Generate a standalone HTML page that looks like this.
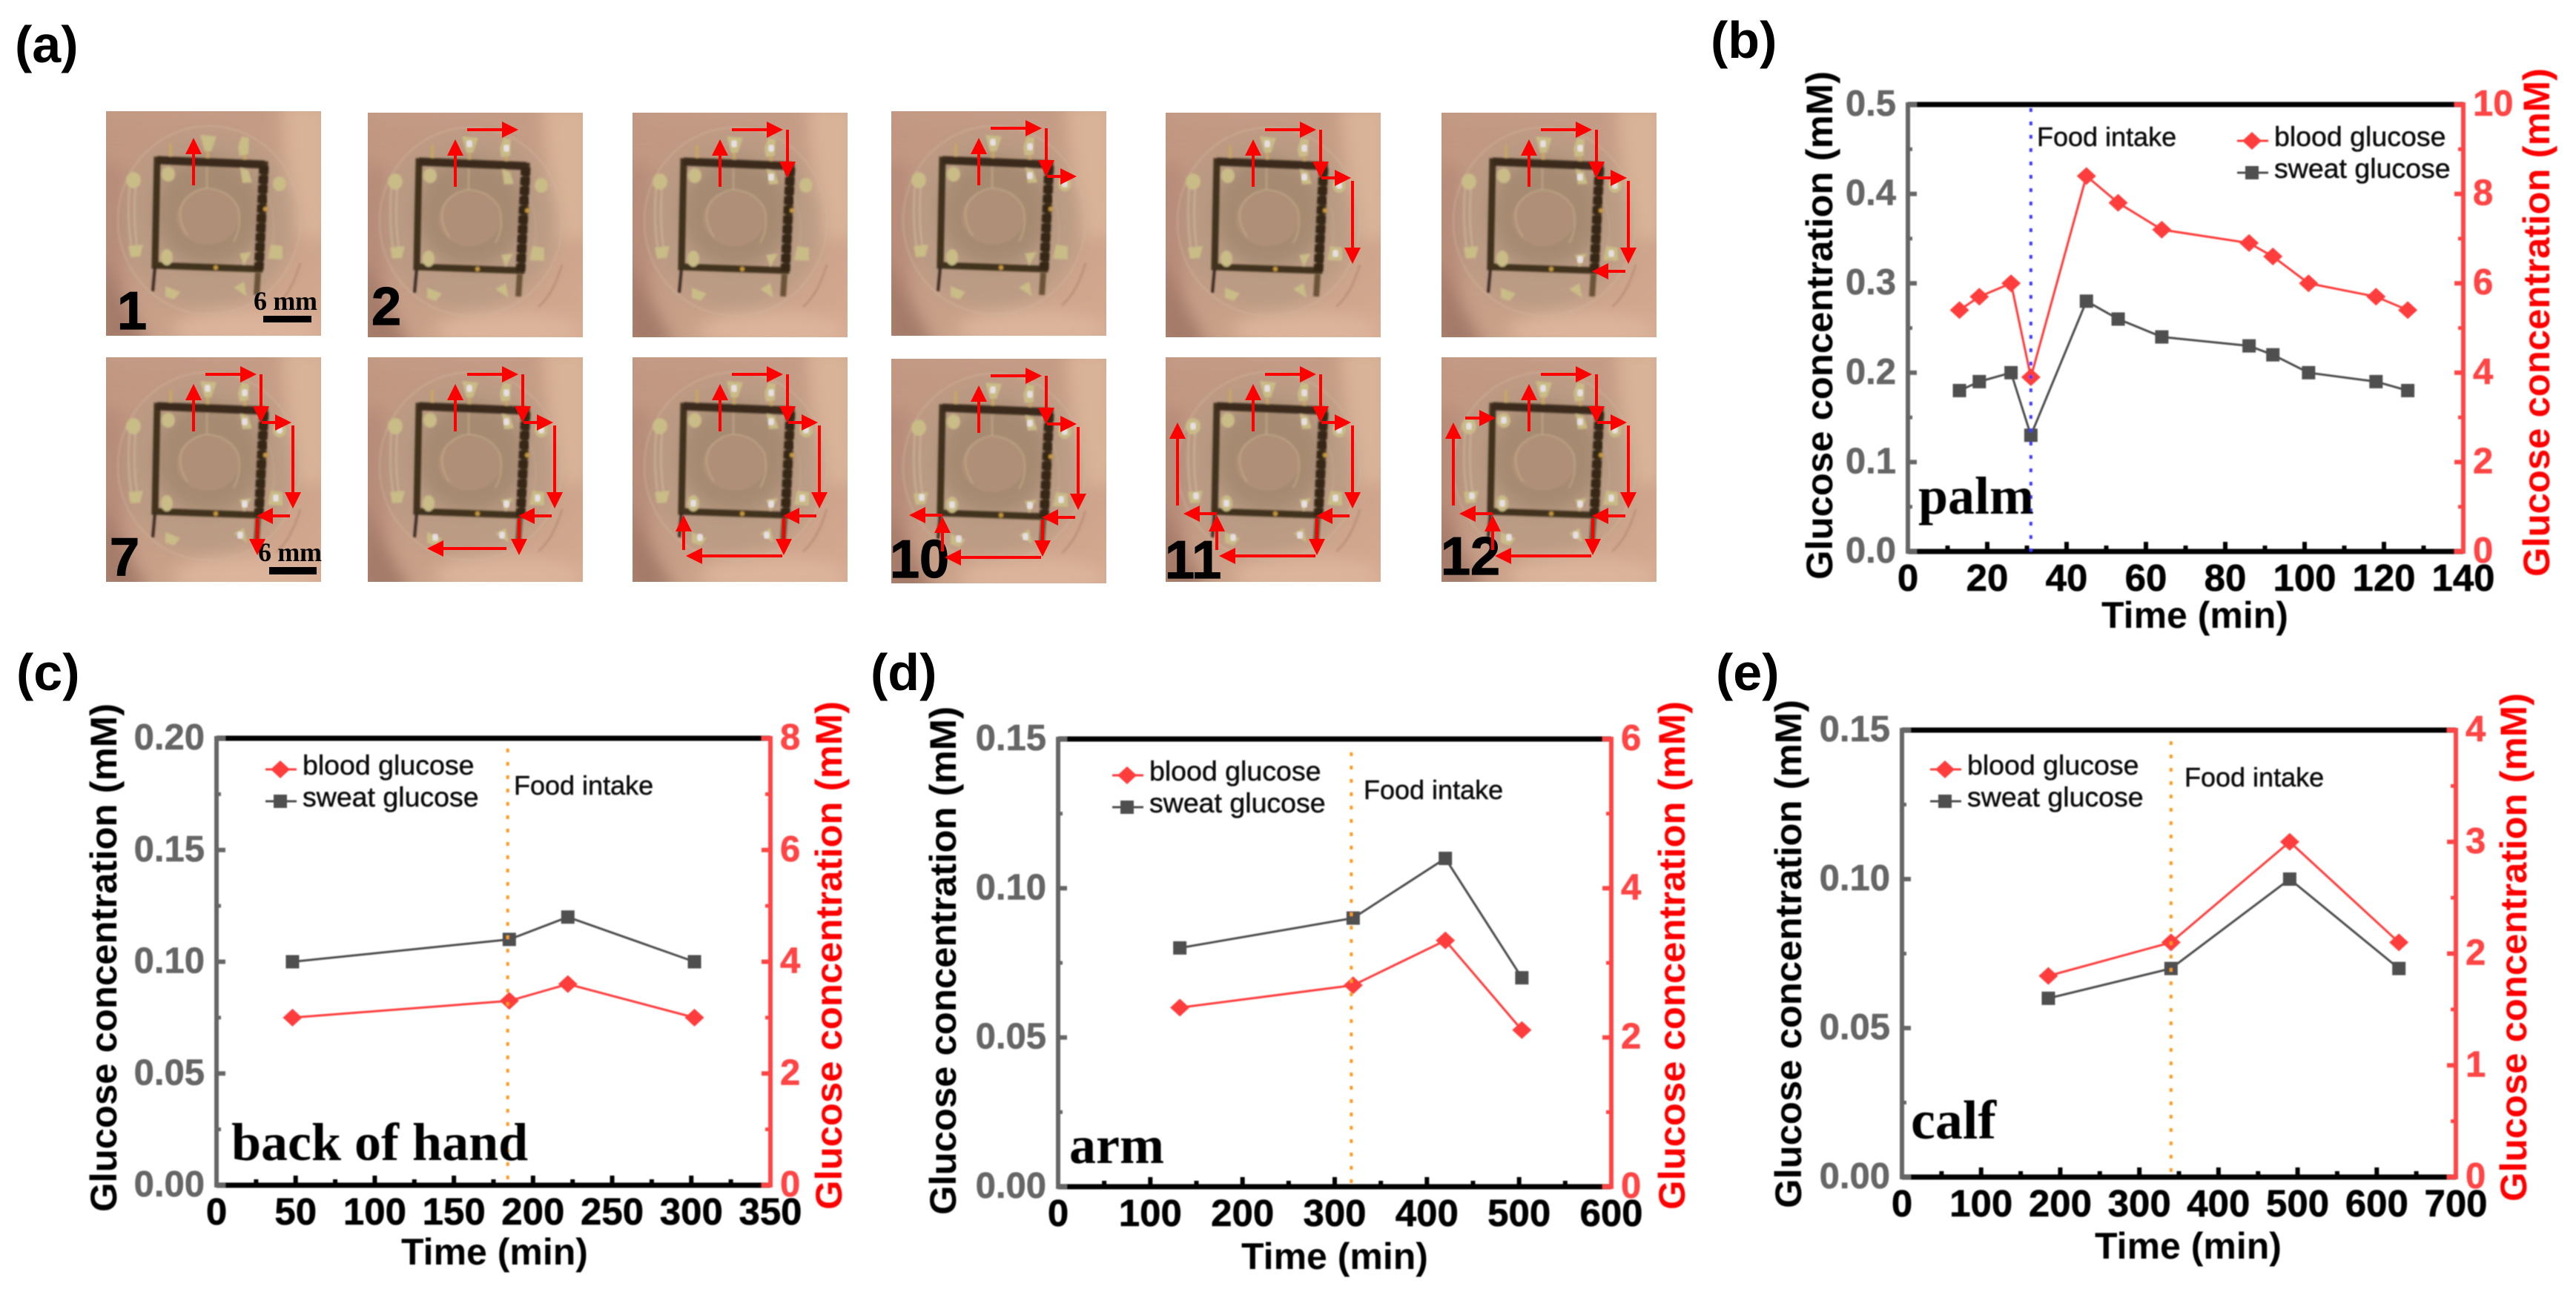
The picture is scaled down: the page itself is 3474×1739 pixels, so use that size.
<!DOCTYPE html>
<html lang="en">
<head>
<meta charset="utf-8">
<title>Glucose monitoring figure</title>
<style>
html,body{margin:0;padding:0;background:#fff;}
svg{display:block;}
text{font-family:"Liberation Sans",Arial,sans-serif;}
.serif{font-family:"Liberation Serif","Times New Roman",serif;font-weight:bold;}
.panel{font-weight:bold;font-size:70px;fill:#000;}
.num{font-weight:bold;font-size:72px;fill:#000;stroke:#000;stroke-width:1.2px;}
.scale{font-family:"Liberation Serif",serif;font-weight:bold;font-size:36px;fill:#000;}
.title{font-weight:bold;font-size:50px;stroke:none;}
.tick{font-weight:bold;font-size:49px;stroke-width:.6px;}
.xtick{font-weight:bold;font-size:51px;stroke-width:.6px;}
.small{font-size:36px;fill:#111;stroke:#111;stroke-width:.5px;}
.legend-text{font-size:37.5px;fill:#111;stroke:#111;stroke-width:.5px;}
</style>
</head>
<body>
<svg id="fig" xmlns="http://www.w3.org/2000/svg" width="3474" height="1739" viewBox="0 0 3474 1739">
  <defs>
    <linearGradient id="skin" x1="0" y1="0" x2="1" y2="1">
      <stop offset="0" stop-color="#c09680"/>
      <stop offset=".5" stop-color="#c69e87"/>
      <stop offset="1" stop-color="#d4aa90"/>
    </linearGradient>
    <clipPath id="photoClip"><rect width="290" height="303"/></clipPath>
    <filter id="bgBlur" x="-10%" y="-10%" width="120%" height="120%"><feGaussianBlur stdDeviation="11"/></filter>
    <filter id="photoBlur" x="-3%" y="-3%" width="106%" height="106%"><feGaussianBlur stdDeviation="1.3"/></filter>
    <filter id="soft" filterUnits="userSpaceOnUse" x="0" y="0" width="3474" height="1739"><feGaussianBlur stdDeviation="0.7"/></filter>
    <g id="photo-art" clip-path="url(#photoClip)">
      <rect width="290" height="303" fill="url(#skin)"/>
      <g filter="url(#bgBlur)">
        <rect x="-20" y="70" width="45" height="240" fill="#b78c79"/>
        <polygon points="-10,190 60,320 -10,320" fill="#a47a69"/>
        <polygon points="235,-10 300,-10 300,170 255,170" fill="#d9b398"/>
        <ellipse cx="190" cy="295" rx="100" ry="26" fill="#dcb49b"/>
        <rect x="0" y="-10" width="230" height="24" fill="#c49b86"/>
        <ellipse cx="139" cy="147" rx="118" ry="120" fill="#b59a83" opacity=".75"/>
        <ellipse cx="139" cy="135" rx="74" ry="74" fill="#a68a72"/>
      </g>
      <g filter="url(#photoBlur)">
        <ellipse cx="139" cy="147" rx="123" ry="127" fill="none" stroke="#d2b9a2" stroke-width="2" opacity=".45"/>
        <path d="M230 262Q250 245 262 205" fill="none" stroke="#93684f" stroke-width="3" opacity=".3"/>
        <path d="M32 100Q28 145 34 182M40 100Q36 145 42 182" fill="none" stroke="#d6c4a4" stroke-width="2.5" opacity=".5"/>
        <path d="M216 110Q232 145 224 182" fill="none" stroke="#c9b193" stroke-width="2" opacity=".35"/>
        <ellipse cx="137" cy="143" rx="42" ry="37" fill="#b6937b" opacity=".55"/>
        <path d="M110 168Q92 140 106 120Q118 106 136 104Q166 106 178 130Q184 155 172 176" fill="none" stroke="#c4aa88" stroke-width="2.5" opacity=".65"/>
        <path d="M136 76V104" stroke="#c4aa88" stroke-width="2.5" fill="none" opacity=".7"/>
        <path d="M87 44V62M137 52V66M187 56V68" stroke="#c9a860" stroke-width="3.5" fill="none"/>
        <path d="M69 66L214 72L207 213L66 208Z" fill="none" stroke="#41311f" stroke-width="9"/>
        <path d="M69 66L214 72" fill="none" stroke="#3a2b1b" stroke-width="11"/>
        <path d="M213 74L206 214" fill="none" stroke="#352819" stroke-width="13" stroke-dasharray="11 2"/>
        <path d="M66 210L63 243" stroke="#3a2c20" stroke-width="4" fill="none"/>
        <path d="M205 218L203 248" stroke="#6a5239" stroke-width="8" fill="none"/>
        <circle cx="215" cy="132" r="3" fill="#c89a3c"/>
        <circle cx="148" cy="211" r="3" fill="#c89a3c"/>
        <g fill="#c9bc86">
          <path d="M127 32L149 34L142 54L133 54Z"/>
          <path d="M183 34L193 36L192 58L180 60L178 48Z"/>
          <ellipse cx="84" cy="85" rx="9" ry="10"/>
          <path d="M181 76L192 80L197 96L184 97Z"/>
          <ellipse cx="37" cy="93" rx="10" ry="11"/>
          <ellipse cx="234" cy="98" rx="9" ry="10"/>
          <path d="M30 182L50 180L46 196L33 197Z"/>
          <path d="M222 180L238 182L238 200L218 199Z"/>
          <ellipse cx="82" cy="197" rx="8" ry="11"/>
          <path d="M180 192L196 190L186 208Z"/>
          <path d="M80 236L100 244L92 254L80 250Z"/>
          <path d="M172 238L186 230L190 250Z"/>
        </g>
      </g>
    </g>
  </defs>

  <g id="photos"></g>

  <g id="photo-labels"></g>

  <g id="photo-arrows"></g>

  <g id="charts" filter="url(#soft)"></g>

  <text class="panel" x="20" y="84">(a)</text>
  <text class="panel" x="2307" y="78">(b)</text>
  <text class="panel" x="22" y="931">(c)</text>
  <text class="panel" x="1174" y="931">(d)</text>
  <text class="panel" x="2314" y="931">(e)</text>
</svg>

<script>
// ---- chart data ----
const palmTimes = [13, 18, 26, 31, 45, 53, 64, 86, 92, 101, 118, 126];
const palmSweat = [0.18, 0.19, 0.20, 0.13, 0.28, 0.26, 0.24, 0.23, 0.22, 0.20, 0.19, 0.18];
const palmBlood = [5.4, 5.7, 6.0, 3.9, 8.4, 7.8, 7.2, 6.9, 6.6, 6.0, 5.7, 5.4];
const palmXTicks = ['0', '20', '40', '60', '80', '100', '120', '140'];
const palmYTicks = ['0.0', '0.1', '0.2', '0.3', '0.4', '0.5'];
const palmY2Ticks = ['0', '2', '4', '6', '8', '10'];

const handTimes = [48, 185, 222, 302];
const handSweat = [0.10, 0.11, 0.12, 0.10];
const handBlood = [3.0, 3.3, 3.6, 3.0];
const handXTicks = ['0', '50', '100', '150', '200', '250', '300', '350'];
const handYTicks = ['0.00', '0.05', '0.10', '0.15', '0.20'];
const handY2Ticks = ['0', '2', '4', '6', '8'];

const armTimes = [132, 320, 420, 503];
const armSweat = [0.08, 0.09, 0.11, 0.07];
const armBlood = [2.4, 2.7, 3.3, 2.1];
const armXTicks = ['0', '100', '200', '300', '400', '500', '600'];
const armYTicks = ['0.00', '0.05', '0.10', '0.15'];
const armY2Ticks = ['0', '2', '4', '6'];

const calfTimes = [185, 340, 490, 628];
const calfSweat = [0.06, 0.07, 0.10, 0.07];
const calfBlood = [1.8, 2.1, 3.0, 2.1];
const calfXTicks = ['0', '100', '200', '300', '400', '500', '600', '700'];
const calfYTicks = ['0.00', '0.05', '0.10', '0.15'];
const calfY2Ticks = ['0', '1', '2', '3', '4'];

const seriesNames = ['blood glucose', 'sweat glucose'];
const yTitle = 'Glucose concentration (mM)';
const xTitle = 'Time (min)';
const foodLabel = 'Food intake';

// ---- helpers ----
const NS = 'http://www.w3.org/2000/svg';
const GRAY = '#666666', RED = '#ff4444', SWEAT = '#505050', BLOOD = '#ff3e3e';
function mk(tag, attrs, parent) {
  const e = document.createElementNS(NS, tag);
  for (const k in attrs) e.setAttribute(k, attrs[k]);
  parent.appendChild(e);
  return e;
}
function tag(el, name) {
  
  
  return el;
}
function diamond(cx, cy, parent) {
  return mk('polygon', {points: (cx-13)+','+cy+' '+cx+','+(cy-12)+' '+(cx+13)+','+cy+' '+cx+','+(cy+12), fill: BLOOD}, parent);
}
function square(cx, cy, parent) {
  return mk('rect', {x: cx-9, y: cy-9, width: 18, height: 18, fill: SWEAT}, parent);
}
function label(txt, x, y, cls, fill, anchor, parent) {
  const t = mk('text', {x: x, y: y, 'class': cls, 'text-anchor': anchor}, parent);
  if (fill) {
    t.setAttribute('fill', fill);
    t.setAttribute('stroke', fill);
  }
  t.textContent = txt;
  return t;
}
function vTitle(x, cy, fill, parent) {
  const t = mk('text', {'class': 'title', fill: fill, 'text-anchor': 'middle', transform: 'translate('+x+' '+cy+') rotate(-90)', textLength: 686, lengthAdjust: 'spacingAndGlyphs'}, parent);
  t.textContent = yTitle;
  return t;
}

function drawChart(c) {
  const root = document.getElementById('charts');
  const g = mk('g', {}, root);
  
  

  const xMax = parseFloat(c.xTicks[c.xTicks.length-1]);
  const yMax = parseFloat(c.yTicks[c.yTicks.length-1]);
  const y2Max = parseFloat(c.y2Ticks[c.y2Ticks.length-1]);
  const X = v => c.left + (c.right - c.left) * v / xMax;
  const Y = v => c.bottom - (c.bottom - c.top) * v / yMax;
  const Y2 = v => c.bottom - (c.bottom - c.top) * v / y2Max;

  // spines
  tag(mk('line', {x1: c.left, x2: c.right, y1: c.top, y2: c.top, stroke: '#000', 'stroke-width': 7}, g), 'top-axis-line');
  tag(mk('line', {x1: c.left, x2: c.right, y1: c.bottom, y2: c.bottom, stroke: '#000', 'stroke-width': 7}, g), 'x-axis-line');
  tag(mk('line', {x1: c.left, x2: c.left, y1: c.top-3, y2: c.bottom+3, stroke: GRAY, 'stroke-width': 6}, g), 'left-y-axis-line');
  tag(mk('line', {x1: c.right, x2: c.right, y1: c.top-3, y2: c.bottom+3, stroke: RED, 'stroke-width': 6}, g), 'right-y-axis-line');

  // x ticks and labels
  c.xTicks.forEach((t, i) => {
    const v = parseFloat(t), x = X(v);
    if (i > 0 && i < c.xTicks.length-1) {
      tag(mk('rect', {x: x-3, y: c.bottom-13, width: 6, height: 13, fill: '#000'}, g), 'x-major-tick');
    }
    tag(label(t, x, c.bottom + 53, 'xtick', '#000', 'middle', g), 'x-tick-label');
    if (i < c.xTicks.length-1) {
      const m = X((v + parseFloat(c.xTicks[i+1])) / 2);
      tag(mk('rect', {x: m-3, y: c.bottom-8, width: 6, height: 8, fill: '#000'}, g), 'x-minor-tick');
    }
  });

  // left y ticks and labels
  c.yTicks.forEach((t, i) => {
    const v = parseFloat(t), y = Y(v);
    tag(mk('line', {x1: c.left, x2: c.left+12, y1: y, y2: y, stroke: GRAY, 'stroke-width': 6}, g), 'left-y-major-tick');
    tag(label(t, c.left-16, y+15, 'tick', GRAY, 'end', g), 'left-y-tick-label');
    if (i < c.yTicks.length-1) {
      const m = Y((v + parseFloat(c.yTicks[i+1])) / 2);
      tag(mk('line', {x1: c.left, x2: c.left+6, y1: m, y2: m, stroke: GRAY, 'stroke-width': 5}, g), 'left-y-minor-tick');
    }
  });

  // right y ticks and labels
  c.y2Ticks.forEach((t, i) => {
    const v = parseFloat(t), y = Y2(v);
    tag(mk('line', {x1: c.right, x2: c.right-12, y1: y, y2: y, stroke: RED, 'stroke-width': 6}, g), 'right-y-major-tick');
    tag(label(t, c.right+13, y+15, 'tick', RED, 'start', g), 'right-y-tick-label');
    if (i < c.y2Ticks.length-1) {
      const m = Y2((v + parseFloat(c.y2Ticks[i+1])) / 2);
      tag(mk('line', {x1: c.right, x2: c.right-7, y1: m, y2: m, stroke: RED, 'stroke-width': 5}, g), 'right-y-minor-tick');
    }
  });

  // series
  const sweatG = mk('g', {}, g);
  
  
  const sweatLine = mk('polyline', {points: c.times.map((t, i) => X(t)+','+Y(c.sweat[i])).join(' '), fill: 'none', stroke: SWEAT, 'stroke-width': 3}, sweatG);
  tag(sweatLine, 'sweat-glucose-line');
  c.sweat.forEach((v, i) => {
    tag(square(X(c.times[i]), Y(v), sweatG), 'sweat-glucose-point');
  });

  const bloodG = mk('g', {}, g);
  
  
  const bloodLine = mk('polyline', {points: c.times.map((t, i) => X(t)+','+Y2(c.blood[i])).join(' '), fill: 'none', stroke: BLOOD, 'stroke-width': 3}, bloodG);
  tag(bloodLine, 'blood-glucose-line');
  c.blood.forEach((v, i) => {
    tag(diamond(X(c.times[i]), Y2(v), bloodG), 'blood-glucose-point');
  });

  // food intake marker (over series, as in the source)
  const food = mk('line', {x1: X(c.foodTime), x2: X(c.foodTime), y1: c.foodTop, y2: c.bottom, stroke: c.foodColor, 'stroke-width': 4, 'stroke-dasharray': '5 13'}, g);
  tag(food, 'food-intake-line');
  tag(label(foodLabel, c.foodX, c.foodY, 'small', null, 'start', g), 'food-intake-label');

  // legend
  const lg = mk('g', {}, g);
  
  
  const lc = c.legendX + 20;
  tag(mk('line', {x1: c.legendX, x2: c.legendX+42, y1: c.legendY1, y2: c.legendY1, stroke: BLOOD, 'stroke-width': 3}, lg), 'legend-blood-line');
  tag(diamond(lc, c.legendY1, lg), 'legend-blood-marker');
  tag(label(seriesNames[0], c.legendX+50, c.legendY1+7, 'legend-text', null, 'start', lg), 'legend-blood-label');
  tag(mk('line', {x1: c.legendX, x2: c.legendX+42, y1: c.legendY2, y2: c.legendY2, stroke: SWEAT, 'stroke-width': 3}, lg), 'legend-sweat-line');
  tag(square(lc, c.legendY2, lg), 'legend-sweat-marker');
  tag(label(seriesNames[1], c.legendX+50, c.legendY2+7, 'legend-text', null, 'start', lg), 'legend-sweat-label');

  // site label
  const site = mk('text', {x: c.siteX, y: c.siteY, 'class': 'serif', 'font-size': c.siteSize, fill: '#000'}, g);
  site.textContent = c.site;
  tag(site, 'body-site-label');

  // axis titles
  tag(vTitle(c.titleLX, c.titleLY, '#000', g), 'left-y-axis-title');
  tag(vTitle(c.titleRX, c.titleRY, '#ff0000', g), 'right-y-axis-title');
  tag(label(xTitle, c.titleXX, c.titleXY, 'title', '#000', 'middle', g), 'x-axis-title');
}

drawChart({name: 'palm-chart', left: 2573, right: 3322, top: 141, bottom: 744,
  times: palmTimes, sweat: palmSweat, blood: palmBlood,
  xTicks: palmXTicks, yTicks: palmYTicks, y2Ticks: palmY2Ticks,
  foodTime: 31, foodColor: '#3a3aff', foodTop: 146, foodX: 2747, foodY: 197,
  legendX: 3017, legendY1: 190, legendY2: 233, site: 'palm', siteX: 2587, siteY: 693, siteSize: 72,
  titleLX: 2471, titleLY: 439, titleRX: 3438, titleRY: 435, titleXX: 2960, titleXY: 847});

drawChart({name: 'back-of-hand-chart', left: 292, right: 1039, top: 996, bottom: 1599,
  times: handTimes, sweat: handSweat, blood: handBlood,
  xTicks: handXTicks, yTicks: handYTicks, y2Ticks: handY2Ticks,
  foodTime: 184, foodColor: '#ff9a1f', foodTop: 1010, foodX: 693, foodY: 1072,
  legendX: 358, legendY1: 1038, legendY2: 1081, site: 'back of hand', siteX: 312, siteY: 1565, siteSize: 72,
  titleLX: 157, titleLY: 1292, titleRX: 1135, titleRY: 1289, titleXX: 667, titleXY: 1706});

drawChart({name: 'arm-chart', left: 1427, right: 2173, top: 997, bottom: 1601,
  times: armTimes, sweat: armSweat, blood: armBlood,
  xTicks: armXTicks, yTicks: armYTicks, y2Ticks: armY2Ticks,
  foodTime: 318, foodColor: '#ff9a1f', foodTop: 1015, foodX: 1839, foodY: 1078,
  legendX: 1500, legendY1: 1046, legendY2: 1089, site: 'arm', siteX: 1442, siteY: 1569, siteSize: 72,
  titleLX: 1289, titleLY: 1296, titleRX: 2272, titleRY: 1289, titleXX: 1800, titleXY: 1712});

drawChart({name: 'calf-chart', left: 2565, right: 3312, top: 985, bottom: 1588,
  times: calfTimes, sweat: calfSweat, blood: calfBlood,
  xTicks: calfXTicks, yTicks: calfYTicks, y2Ticks: calfY2Ticks,
  foodTime: 340, foodColor: '#ff9a1f', foodTop: 1000, foodX: 2946, foodY: 1061,
  legendX: 2603, legendY1: 1038, legendY2: 1081, site: 'calf', siteX: 2577, siteY: 1536, siteSize: 74,
  titleLX: 2429, titleLY: 1287, titleRX: 3407, titleRY: 1278, titleXX: 2951, titleXY: 1698});

// ---- photo grid ----
const photoLefts = [143, 496, 853, 1202, 1572, 1944];
const photoTopsRow1 = [150, 152, 152, 150, 152, 152];
const photoTopsRow2 = [482, 482, 482, 484, 482, 482];
const routeSteps = [
  [118, 100, 118, 36], [134, 23, 203, 23], [209, 23, 209, 88], [210, 88, 250, 88],
  [252, 92, 252, 204], [248, 214, 203, 214], [204, 217, 204, 267], [202, 268, 72, 268],
  [69, 260, 69, 213], [69, 211, 24, 211], [16, 200, 16, 88], [32, 82, 73, 82]
];
// [x, y, first photo in which the pad is lit]
const padLights = [
  [137, 42, 2], [187, 48, 2], [187, 87, 3], [234, 98, 4], [229, 190, 5], [187, 198, 6],
  [181, 240, 7], [91, 243, 8], [82, 197, 9], [41, 187, 10], [37, 93, 11], [84, 85, 12]
];
function arrow(s, parent) {
  const dx = s[2]-s[0], dy = s[3]-s[1], len = Math.hypot(dx, dy), ux = dx/len, uy = dy/len;
  const bx = s[2]-ux*22, by = s[3]-uy*22;
  const a = mk('g', {}, parent);
  
  
  mk('line', {x1: s[0], y1: s[1], x2: bx, y2: by, stroke: '#ff0000', 'stroke-width': 4}, a);
  mk('polygon', {points: s[2]+','+s[3]+' '+(bx-uy*11)+','+(by+ux*11)+' '+(bx+uy*11)+','+(by-ux*11), fill: '#ff0000'}, a);
}
const photoRoot = document.getElementById('photos');
const arrowRoot = document.getElementById('photo-arrows');
[photoTopsRow1, photoTopsRow2].forEach((tops, r) => {
  photoLefts.forEach((x, i) => {
    const n = r * 6 + i + 1;
    const p = mk('g', {transform: 'translate('+x+' '+tops[i]+')'}, photoRoot);
    
    
    mk('use', {href: '#photo-art'}, p);
    padLights.filter(l => l[2] <= n).forEach(l => {
      const d = mk('rect', {x: l[0]-4, y: l[1]-5, width: 8, height: 10, rx: 3, fill: '#e6dfe4', filter: 'url(#photoBlur)'}, p);
      
      
    });
    const ag = mk('g', {transform: 'translate('+x+' '+tops[i]+')'}, arrowRoot);
    
    
    routeSteps.slice(0, n).forEach((s, k) => {
      const step = (n === 8 && k === 7) ? [187, 258, 80, 258] : s;
      arrow(step, ag);
    });
  });
});

// numbers and scale bars sit above the photos, below the route arrows
const labelRoot = document.getElementById('photo-labels');
const numberTexts = ['1', '2', '7', '10', '11', '12'];
const numberX = [158, 501, 148, 1200, 1571, 1943];
const numberY = [444, 438, 776, 779, 780, 775];
numberTexts.forEach((t, i) => {
  const e = mk('text', {'class': 'num', x: numberX[i], y: numberY[i]}, labelRoot);
  e.textContent = t;
  
  
});
const scaleText = '6 mm';
const s1 = mk('text', {'class': 'scale', x: 342, y: 418, textLength: 86}, labelRoot);
s1.textContent = scaleText;


const b1 = mk('rect', {x: 355, y: 426, width: 65, height: 9, fill: '#000'}, labelRoot);


const s2 = mk('text', {'class': 'scale', x: 348, y: 757, textLength: 86}, labelRoot);
s2.textContent = scaleText;


const b2 = mk('rect', {x: 363, y: 765, width: 64, height: 10, fill: '#000'}, labelRoot);


</script>
</body>
</html>
